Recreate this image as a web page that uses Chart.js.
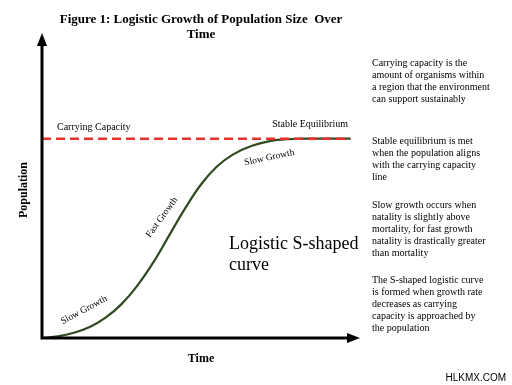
<!DOCTYPE html>
<html>
<head>
<meta charset="utf-8">
<script src="https://cdn.jsdelivr.net/npm/chart.js@4"></script>
<style>
  html, body { margin: 0; padding: 0; background: #fff; }
  #wrap { width: 512px; height: 385px; }
</style>
</head>
<body>
<div id="wrap"><canvas id="c" width="512" height="385"></canvas></div>
<script>
// time (arbitrary units) and population (% of carrying capacity)
const times = [0, 5, 10, 15, 20, 25, 30, 35, 40, 45, 50, 55, 60, 66, 72, 77, 84, 97];
const population = [0, 0.8, 2.6, 5.5, 10.2, 17, 26.3, 37.9, 51.5, 65, 77, 86, 92, 96.4, 98.9, 99.7, 100, 100];
const capacityX = [0, 97];
const capacityY = [100, 100];

const notes = [
  ["Carrying capacity is the", "amount of organisms within", "a region that the environment", "can support sustainably"],
  ["Stable equilibrium is met", "when the population aligns", "with the carrying capacity", "line"],
  ["Slow growth occurs when", "natality is slightly above", "mortality, for fast growth", "natality is drastically greater", "than mortality"],
  ["The S-shaped logistic curve", "is formed when growth rate", "decreases as carrying", "capacity is approached by", "the population"]
];
const noteTops = [63, 141, 205, 280];

const SERIF = '"Liberation Serif", "DejaVu Serif", serif';

const decor = {
  id: "decor",
  afterDatasetsDraw(chart) {
    const { ctx, chartArea: a, scales: { x, y } } = chart;
    ctx.save();

    // axes
    ctx.strokeStyle = "#000";
    ctx.lineWidth = 3;
    ctx.beginPath();
    ctx.moveTo(a.left, a.top + 8);
    ctx.lineTo(a.left, a.bottom);
    ctx.lineTo(a.right - 8, a.bottom);
    ctx.stroke();
    ctx.fillStyle = "#000";
    ctx.beginPath();
    ctx.moveTo(a.left, a.top);
    ctx.lineTo(a.left - 5, a.top + 13);
    ctx.lineTo(a.left + 5, a.top + 13);
    ctx.closePath();
    ctx.fill();
    ctx.beginPath();
    ctx.moveTo(a.right, a.bottom);
    ctx.lineTo(a.right - 13, a.bottom - 5);
    ctx.lineTo(a.right - 13, a.bottom + 5);
    ctx.closePath();
    ctx.fill();

    // title
    ctx.textAlign = "center";
    ctx.textBaseline = "middle";
    ctx.font = "bold 13px " + SERIF;
    ctx.fillText("Figure 1: Logistic Growth of Population Size  Over", 201, 20);
    ctx.fillText("Time", 201, 35);

    // axis titles
    ctx.font = "bold 12px " + SERIF;
    ctx.fillText("Time", 201, 359);
    ctx.save();
    ctx.translate(24, 190);
    ctx.rotate(-Math.PI / 2);
    ctx.fillText("Population", 0, 0);
    ctx.restore();

    // labels on the chart
    ctx.font = "10px " + SERIF;
    ctx.textAlign = "left";
    ctx.fillText("Carrying Capacity", 57, 127);
    ctx.textAlign = "right";
    ctx.fillText("Stable Equilibrium", 348, 124);

    const rotLabel = (txt, tx, py, deg) => {
      ctx.save();
      ctx.translate(x.getPixelForValue(tx), y.getPixelForValue(py));
      ctx.rotate(deg * Math.PI / 180);
      ctx.textAlign = "center";
      ctx.fillText(txt, 0, 0);
      ctx.restore();
    };
    ctx.font = "9.5px " + SERIF;
    rotLabel("Slow Growth", 13.2, 14, -28);
    rotLabel("Fast Growth", 37.7, 60.5, -54);
    rotLabel("Slow Growth", 71.5, 90.5, -12);

    ctx.font = "18px " + SERIF;
    ctx.textAlign = "left";
    ctx.fillText("Logistic S-shaped", 229, 244);
    ctx.fillText("curve", 229, 265);

    // side notes
    ctx.font = "10px " + SERIF;
    notes.forEach((lines, i) => {
      lines.forEach((ln, j) => ctx.fillText(ln, 372, noteTops[i] + j * 12));
    });

    ctx.font = "10px Arial, \"Liberation Sans\", sans-serif";
    ctx.textAlign = "right";
    ctx.fillText("HLKMX.COM", 506, 378);
    ctx.restore();
  }
};

new Chart(document.getElementById("c"), {
  type: "scatter",
  data: {
    datasets: [
      {
        label: "Carrying capacity",
        data: capacityX.map((t, i) => ({ x: t, y: capacityY[i] })),
        showLine: true,
        borderColor: "#e8302c",
        borderWidth: 2.5,
        borderDash: [9, 5],
        pointRadius: 0
      },
      {
        label: "Population",
        data: times.map((t, i) => ({ x: t, y: population[i] })),
        showLine: true,
        borderColor: "#2f4a20",
        borderWidth: 2.2,
        tension: 0.4,
        pointRadius: 0
      }
    ]
  },
  options: {
    responsive: false,
    animation: false,
    layout: { padding: { left: 42, right: 152, top: 33, bottom: 47 } },
    plugins: { legend: { display: false }, tooltip: { enabled: false } },
    scales: {
      x: { type: "linear", min: 0, max: 100, display: false },
      y: { type: "linear", min: 0, max: 153, display: false }
    }
  },
  plugins: [decor]
});
</script>
</body>
</html>
